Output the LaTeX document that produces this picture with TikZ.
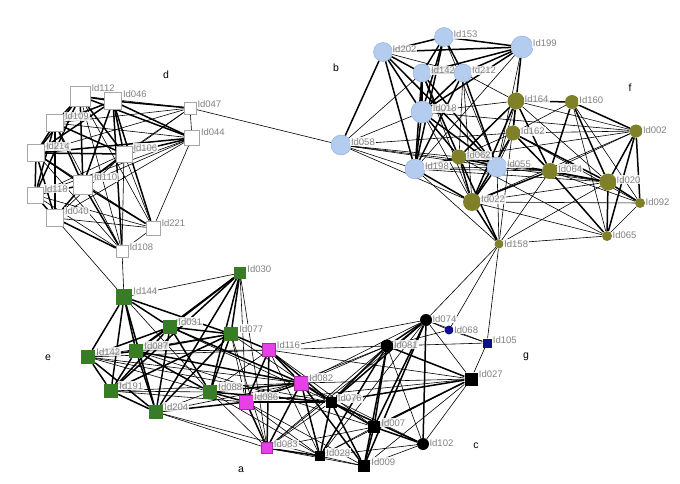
\documentclass[tikz,border=0pt]{standalone}
\usepackage{fontspec}
\setmainfont{Liberation Sans}
\usetikzlibrary{backgrounds}
\definecolor{idgray}{RGB}{130,130,130}
\definecolor{cblue}{RGB}{180,205,238}
\definecolor{cblueb}{RGB}{140,170,215}
\definecolor{colive}{RGB}{128,128,40}
\definecolor{cgreen}{RGB}{56,124,40}
\definecolor{cmag}{RGB}{230,64,230}
\definecolor{cnavy}{RGB}{16,16,140}

\begin{document}
\begin{tikzpicture}[x=1pt,y=-1pt,
  tk/.style={line width=1.5pt},
  tn/.style={line width=0.6pt},
  lbl/.style={text=idgray,font=\fontsize{9.5}{10}\selectfont,inner sep=1pt,anchor=west,yshift=-2pt,
    fill=white,fill opacity=0.85,text opacity=1},
  grp/.style={font=\fontsize{10.5}{12}\selectfont},
  sqr/.style={rectangle,inner sep=0pt},
  rnd/.style={circle,inner sep=0pt},
  wsq/.style={sqr,draw=gray!70,fill=white,line width=0.6pt},
  bci/.style={rnd,draw=cblueb,fill=cblue,line width=0.4pt},
  oci/.style={rnd,fill=colive},
  gsq/.style={sqr,fill=cgreen},
  msq/.style={sqr,draw=cmag!70!black,fill=cmag,line width=0.4pt},
  ksq/.style={sqr,fill=black},
  kci/.style={rnd,fill=black},
  nci/.style={rnd,fill=cnavy},
  nsq/.style={sqr,fill=cnavy}]
\useasboundingbox (0,0) rectangle (680,484);

% cluster letters
\node[grp] (ga) at (241,470) {a};
\node[grp] (gb) at (336,68) {b};
\node[grp] (gc) at (476,446) {c};
\node[grp] (gd) at (166,75) {d};
\node[grp] (ge) at (48,358) {e};
\node[grp] (gf) at (630,88) {f};
\node[grp] (gg) at (526,357) {g};

% d
\node[wsq,minimum size=20,label={[lbl]north east:Id112}] (d112) at (80,96) {};
\node[wsq,minimum size=17,label={[lbl]north east:Id046}] (d046) at (113,101) {};
\node[wsq,minimum size=17,label={[lbl]north east:Id109}] (d109) at (55,123) {};
\node[wsq,minimum size=17,label={[lbl]north east:Id214}] (d214) at (36,153) {};
\node[wsq,minimum size=16,label={[lbl]north east:Id106}] (d106) at (124,154) {};
\node[wsq,minimum size=19,label={[lbl]north east:Id110}] (d110) at (83,185) {};
\node[wsq,minimum size=16,label={[lbl]north east:Id118}] (d118) at (35,195) {};
\node[wsq,minimum size=17,label={[lbl]north east:Id040}] (d040) at (55,218) {};
\node[wsq,minimum size=12,label={[lbl]north east:Id047}] (d047) at (190,108) {};
\node[wsq,minimum size=15,label={[lbl]north east:Id044}] (d044) at (192,138) {};
\node[wsq,minimum size=14,label={[lbl]north east:Id221}] (d221) at (153,228) {};
\node[wsq,minimum size=12,label={[lbl]north east:Id108}] (d108) at (122,251) {};

% b
\node[bci,minimum size=19,label={[lbl]30:Id153}] (b153) at (444,37) {};
\node[bci,minimum size=19,label={[lbl]30:Id202}] (b202) at (383,52) {};
\node[bci,minimum size=22,label={[lbl]30:Id199}] (b199) at (522,47) {};
\node[bci,minimum size=18,label={[lbl]30:Id142}] (b142) at (422,73) {};
\node[bci,minimum size=18,label={[lbl]30:Id212}] (b212) at (463,73) {};
\node[bci,minimum size=22,label={[lbl]30:Id018}] (b018) at (422,112) {};
\node[bci,minimum size=20,label={[lbl]30:Id058}] (b058) at (341,145) {};
\node[bci,minimum size=20,label={[lbl]30:Id198}] (b198) at (415,169) {};
\node[bci,minimum size=20,label={[lbl]30:Id055}] (b055) at (497,167) {};

% f
\node[oci,minimum size=17,label={[lbl]30:Id164}] (f164) at (516,101) {};
\node[oci,minimum size=14,label={[lbl]30:Id160}] (f160) at (572,102) {};
\node[oci,minimum size=15,label={[lbl]30:Id162}] (f162) at (513,133) {};
\node[oci,minimum size=13,label={[lbl]30:Id002}] (f002) at (636,131) {};
\node[oci,minimum size=15,label={[lbl]30:Id062}] (f062) at (459,157) {};
\node[oci,minimum size=16,label={[lbl]30:Id064}] (f064) at (550,171) {};
\node[oci,minimum size=17,label={[lbl]30:Id020}] (f020) at (608,182) {};
\node[oci,minimum size=18,label={[lbl]30:Id022}] (f022) at (472,202) {};
\node[oci,minimum size=10,label={[lbl]30:Id092}] (f092) at (640,203) {};
\node[oci,minimum size=10,label={[lbl]30:Id065}] (f065) at (607,236) {};
\node[oci,minimum size=9,label={[lbl]30:Id158}] (f158) at (499,244) {};

% e
\node[gsq,minimum size=12,label={[lbl]north east:Id030}] (e030) at (240,273) {};
\node[gsq,minimum size=16,label={[lbl]north east:Id144}] (e144) at (124,297) {};
\node[gsq,minimum size=14,label={[lbl]north east:Id031}] (e031) at (170,327) {};
\node[gsq,minimum size=14,label={[lbl]north east:Id077}] (e077) at (231,334) {};
\node[gsq,minimum size=14,label={[lbl]north east:Id142}] (e142) at (88,357) {};
\node[gsq,minimum size=14,label={[lbl]north east:Id087}] (e087) at (136,351) {};
\node[gsq,minimum size=14,label={[lbl]north east:Id191}] (e191) at (111,391) {};
\node[gsq,minimum size=14,label={[lbl]north east:Id088}] (e088) at (210,392) {};
\node[gsq,minimum size=14,label={[lbl]north east:Id204}] (e204) at (156,412) {};

% a
\node[msq,minimum size=13,label={[lbl]north east:Id116}] (a116) at (269,350) {};
\node[msq,minimum size=14,label={[lbl]north east:Id082}] (a082) at (301,383) {};
\node[msq,minimum size=14,label={[lbl]north east:Id086}] (a086) at (246,402) {};
\node[msq,minimum size=11,label={[lbl]north east:Id083}] (a083) at (267,448) {};

% c, g
\node[kci,minimum size=12,label={[lbl]30:Id074}] (c074) at (426,320) {};
\node[kci,minimum size=13,label={[lbl]30:Id081}] (c081) at (387,346) {};
\node[ksq,minimum size=13,label={[lbl]north east:Id027}] (c027) at (471,379) {};
\node[ksq,minimum size=11,label={[lbl]north east:Id076}] (c076) at (331,402) {};
\node[ksq,minimum size=12,label={[lbl]north east:Id007}] (c007) at (374,427) {};
\node[kci,minimum size=12,label={[lbl]30:Id102}] (c102) at (423,444) {};
\node[ksq,minimum size=10,label={[lbl]north east:Id028}] (c028) at (320,456) {};
\node[ksq,minimum size=12,label={[lbl]north east:Id009}] (c009) at (364,466) {};
\node[nci,minimum size=9,label={[lbl]30:Id068}] (g068) at (449,330) {};
\node[nsq,minimum size=9,label={[lbl]north east:Id105}] (g105) at (487,343) {};

\begin{pgfonlayer}{background}
% d
\foreach \u/\v in {d112/d046,d112/d109,d112/d214,d112/d110,d112/d118,d109/d214,d109/d110,d109/d118,d109/d040,
  d214/d110,d214/d118,d214/d040,d110/d118,d110/d040,d118/d040,d046/d109,d046/d214,d046/d110,d046/d106,
  d112/d106,d214/d106,d110/d106,d046/d044,d046/d047,d112/d044,d106/d044,d110/d108,d110/d221,d040/d108,
  d046/d221,d046/d108,d109/d106,d214/d044}
  \draw[tk] (\u) -- (\v);
\foreach \u/\v in {d112/d047,d109/d047,d109/d044,d214/d047,d106/d047,d110/d044,d110/d047,d118/d106,d040/d106,
  d118/d108,d118/d221,d040/d221,d214/d108,d214/d221,d109/d108,d106/d108,d106/d221,d112/d221,d112/d108,
  d044/d221,d047/d044,d221/d108,d040/d044,d118/d044,d047/b058,d108/e144,d040/e144}
  \draw[tn] (\u) -- (\v);
% b, f
\foreach \u/\v in {b153/b202,b153/b199,b153/b142,b153/b212,b153/b018,b202/b199,b202/b142,b202/b018,b202/b198,
  b202/b058,b199/b212,b199/b142,b199/f164,b142/b212,b142/b018,b142/b198,b212/b018,b212/b198,b018/b198,
  b018/b055,b018/f062,b142/f062,b202/b055,b212/b055,b198/f062,b198/f022,b055/f022,b055/f062,f062/f022,
  b199/b018,b153/b198,b142/b055,
  f164/f160,f164/f162,f164/f062,f164/f022,f164/f064,f162/f022,f162/f064,f162/f020,f160/f064,f160/f020,
  f062/f064,f022/f158,f064/f020,f020/f002,f020/f092,f020/f065,f002/f065,f002/f092,f064/f065,f062/f158,
  f022/f064,f160/f002}
  \draw[tk] (\u) -- (\v);
\foreach \u/\v in {b058/b018,b058/b198,b058/f062,b058/b055,b058/f022,b058/f064,b058/f162,b058/b142,b018/f164,
  b018/f002,b018/f022,b212/f062,b212/f022,b199/b198,b199/b055,b198/b055,b198/f064,b153/b055,b202/b212,
  b212/f164,b142/f022,b055/f158,b055/f064,b055/f020,b055/f164,b055/f162,b198/f158,b198/f020,
  f164/f002,f164/f020,f164/f158,f160/f162,f160/f092,f160/f065,f162/f002,f162/f062,f162/f092,f062/f020,
  f064/f092,f064/f158,f022/f020,f022/f065,f022/f092,f002/f022,f002/f064,f092/f065,f065/f158,f158/f020,
  f062/f065,f062/f002,f158/c074,f158/g068,f158/g105}
  \draw[tn] (\u) -- (\v);
% e, a, c
\foreach \u/\v in {e030/e031,e030/e077,e030/e087,e030/e088,e030/e204,e030/e191,e144/e031,e144/e142,e144/e087,
  e144/e191,e144/e204,e031/e077,e031/e087,e031/e142,e031/e088,e031/e204,e077/e087,e077/e088,e077/e191,
  e077/e204,e142/e087,e142/e191,e142/e204,e087/e191,e087/e204,e087/e088,e191/e204,e144/e077,e031/e191,
  e088/a086,e088/a082,e087/a082,e077/a116,e204/a086,e088/c076,e031/a082,
  a116/a082,a116/a086,a116/a083,a082/a086,a082/a083,a086/a083,a116/c076,a082/c076,a082/c028,a082/c009,
  a086/c076,a083/c028,
  c074/c081,c074/c076,c074/c007,c074/c102,c074/c009,c081/c076,c081/c007,c081/c009,c081/c028,c081/c027,
  c076/c007,c076/c009,c076/c028,c076/c102,c007/c009,c007/c102,c027/c076,c027/c007}
  \draw[tk] (\u) -- (\v);
\foreach \u/\v in {e030/e144,e144/e088,e142/e088,e191/e088,e204/e088,e142/e077,e030/a086,e030/a083,e077/a086,
  e142/a116,e142/a082,e087/a116,e191/a086,e204/a083,e204/c028,e088/a083,e088/c028,e088/a116,e077/a083,
  e077/c076,e031/c076,e204/a082,e191/a082,e142/c076,e087/c007,
  a116/c027,a116/c081,a116/c074,a116/c007,a082/c027,a082/c081,a082/c074,a082/c102,a082/c007,a086/c028,
  a086/c009,a086/c027,a086/c081,a083/c081,a083/c009,a083/c076,a083/c007,a083/c074,a116/c028,
  c074/c027,c074/c028,c074/g068,c074/g105,c081/g068,c081/g105,c081/c102,c027/c102,c027/c009,c027/c028,
  c027/g105,c102/c009,c102/c028,c009/c028,c007/c028,g068/g105}
  \draw[tn] (\u) -- (\v);
\end{pgfonlayer}
\end{tikzpicture}
\end{document}
